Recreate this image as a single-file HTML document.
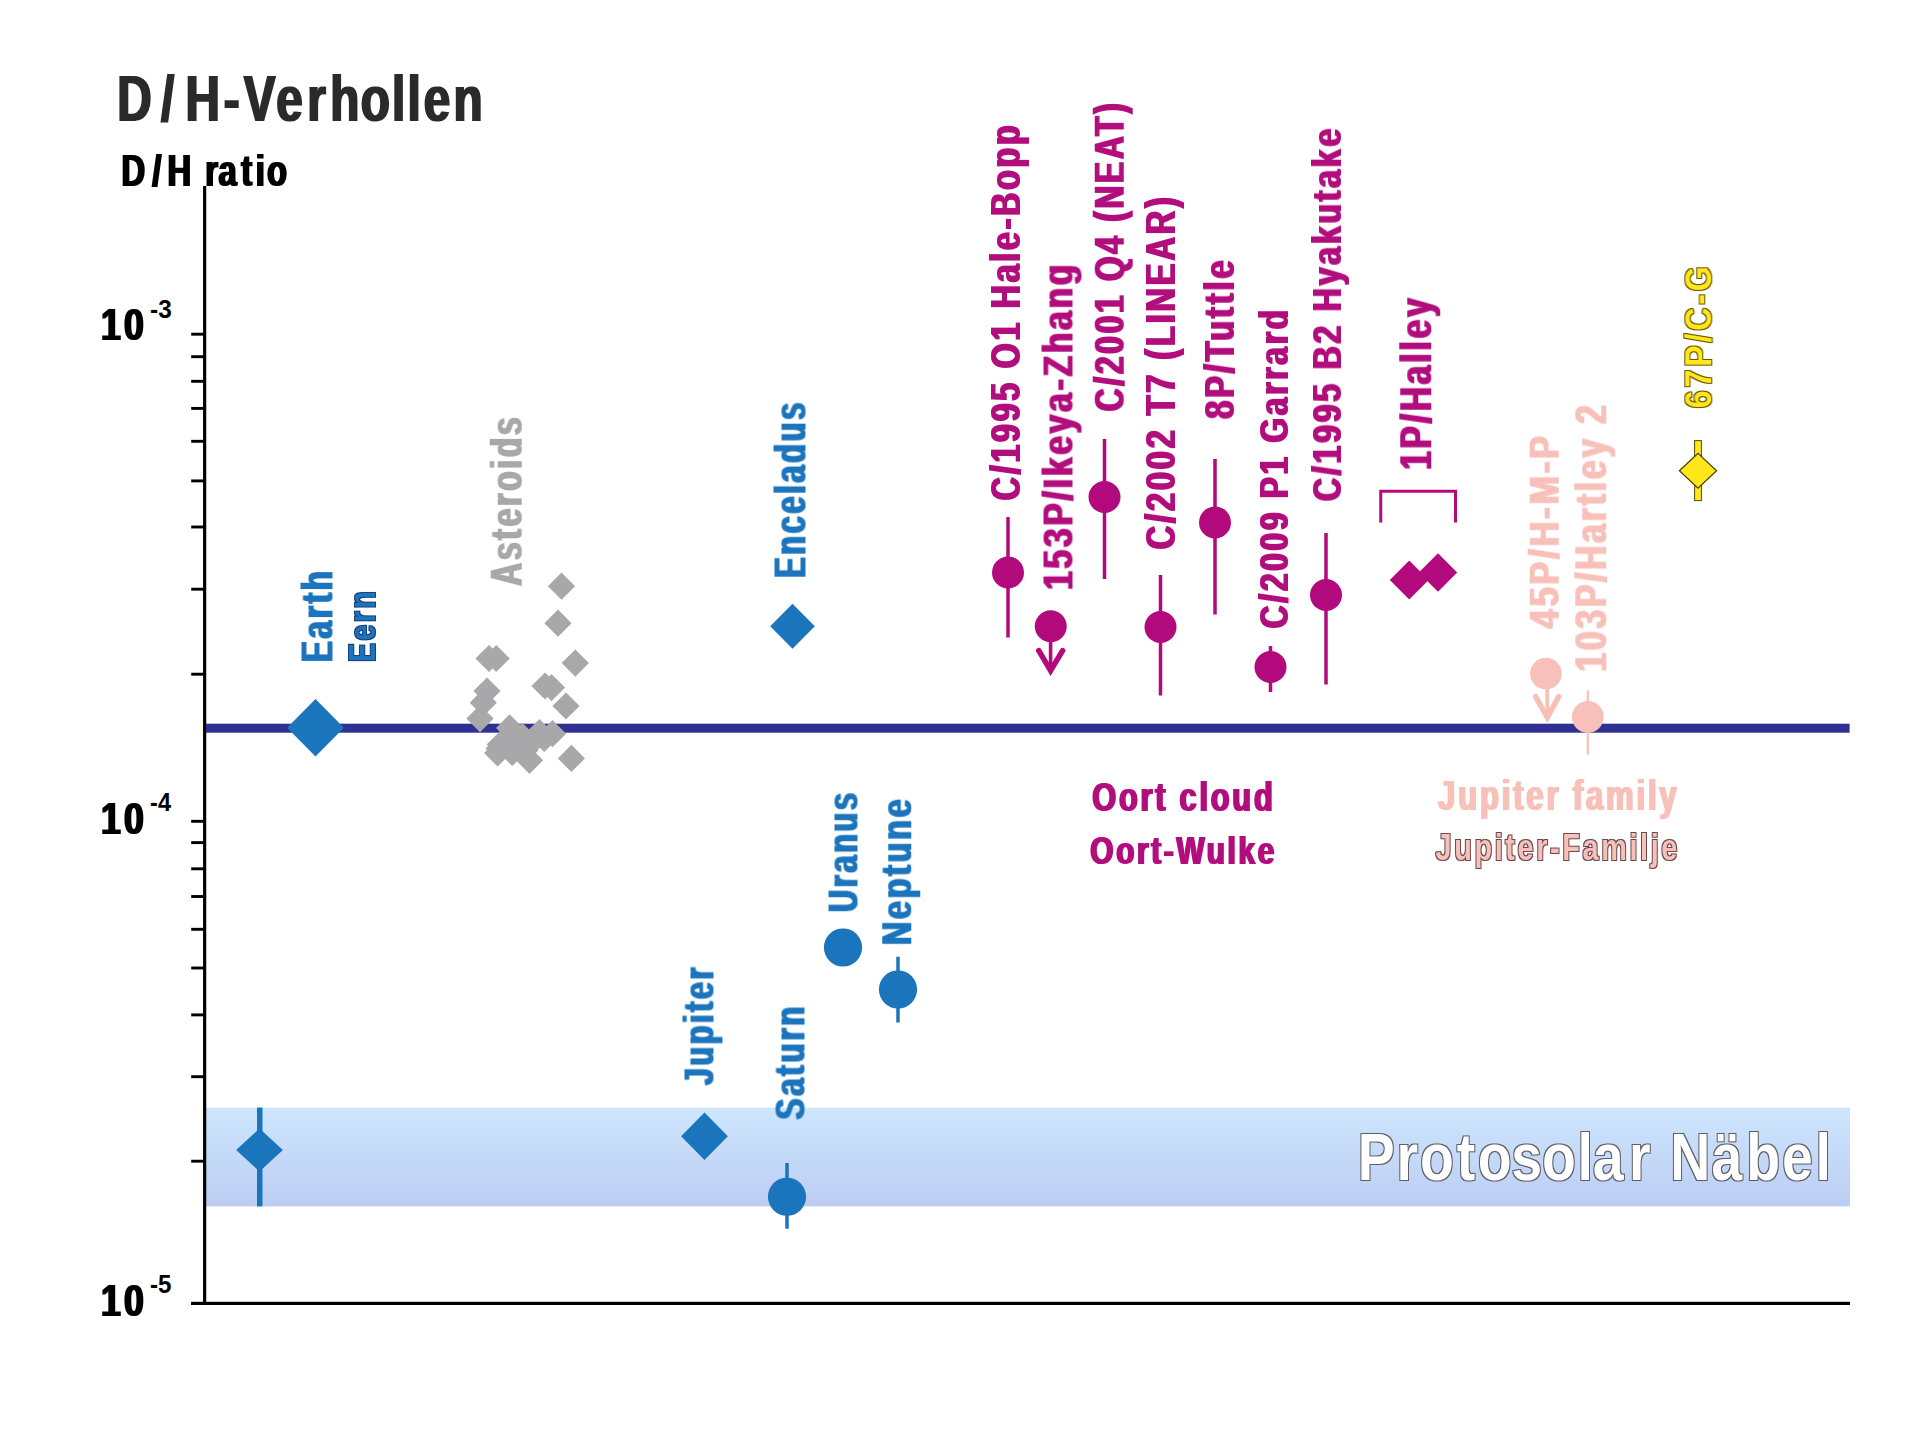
<!DOCTYPE html>
<html lang="nds"><head><meta charset="utf-8"><title>D/H-Verhollen</title>
<style>
html,body{margin:0;padding:0;background:#fff;}
body{width:1911px;height:1433px;overflow:hidden;}
svg{display:block;font-family:"Liberation Sans",sans-serif;font-weight:bold;}
</style></head><body>
<svg width="1911" height="1433" viewBox="0 0 1911 1433">
<rect width="1911" height="1433" fill="#fff"/>
<defs><filter id="fat" x="-5%" y="-25%" width="110%" height="150%"><feMorphology operator="dilate" radius="1.15 0"/></filter><filter id="oW" x="-5%" y="-25%" width="110%" height="150%" color-interpolation-filters="sRGB"><feMorphology in="SourceAlpha" operator="dilate" radius="1.15 1" result="outer"/><feFlood flood-color="#5e5e66"/><feComposite in2="outer" operator="in" result="o"/><feFlood flood-color="#ffffff"/><feComposite in2="SourceAlpha" operator="in" result="f"/><feMerge><feMergeNode in="o"/><feMergeNode in="f"/></feMerge></filter><filter id="oP" x="-5%" y="-25%" width="110%" height="150%" color-interpolation-filters="sRGB"><feMorphology in="SourceAlpha" operator="dilate" radius="1.15 1" result="outer"/><feFlood flood-color="#6a4a50"/><feComposite in2="outer" operator="in" result="o"/><feFlood flood-color="#f7c0b9"/><feComposite in2="SourceAlpha" operator="in" result="f"/><feMerge><feMergeNode in="o"/><feMergeNode in="f"/></feMerge></filter><filter id="oB" x="-5%" y="-25%" width="110%" height="150%" color-interpolation-filters="sRGB"><feMorphology in="SourceAlpha" operator="dilate" radius="1.15 1" result="outer"/><feFlood flood-color="#173f78"/><feComposite in2="outer" operator="in" result="o"/><feFlood flood-color="#1b75bc"/><feComposite in2="SourceAlpha" operator="in" result="f"/><feMerge><feMergeNode in="o"/><feMergeNode in="f"/></feMerge></filter><filter id="oY" x="-5%" y="-25%" width="110%" height="150%" color-interpolation-filters="sRGB"><feMorphology in="SourceAlpha" operator="dilate" radius="1.15 1" result="outer"/><feFlood flood-color="#6b5500"/><feComposite in2="outer" operator="in" result="o"/><feFlood flood-color="#ffe71a"/><feComposite in2="SourceAlpha" operator="in" result="f"/><feMerge><feMergeNode in="o"/><feMergeNode in="f"/></feMerge></filter></defs>
<defs><linearGradient id="bg" x1="0" y1="0" x2="0" y2="1"><stop offset="0" stop-color="#cde6fd"/><stop offset="1" stop-color="#bccdf3"/></linearGradient></defs>
<rect x="206" y="1107.6" width="1644" height="98.8" fill="url(#bg)"/>
<rect x="203.05" y="186.00" width="3.20" height="1119.00" fill="#000"/>
<rect x="191.00" y="1301.80" width="1659.00" height="3.20" fill="#000"/>
<rect x="191.20" y="332.75" width="12.80" height="2.90" fill="#000"/>
<rect x="191.20" y="355.25" width="12.80" height="2.90" fill="#000"/>
<rect x="191.20" y="379.85" width="12.80" height="2.90" fill="#000"/>
<rect x="191.20" y="406.95" width="12.80" height="2.90" fill="#000"/>
<rect x="191.20" y="439.85" width="12.80" height="2.90" fill="#000"/>
<rect x="191.20" y="479.45" width="12.80" height="2.90" fill="#000"/>
<rect x="191.20" y="525.55" width="12.80" height="2.90" fill="#000"/>
<rect x="191.20" y="587.75" width="12.80" height="2.90" fill="#000"/>
<rect x="191.20" y="672.75" width="12.80" height="2.90" fill="#000"/>
<rect x="191.20" y="819.85" width="12.80" height="2.90" fill="#000"/>
<rect x="191.20" y="841.15" width="12.80" height="2.90" fill="#000"/>
<rect x="191.20" y="867.35" width="12.80" height="2.90" fill="#000"/>
<rect x="191.20" y="895.05" width="12.80" height="2.90" fill="#000"/>
<rect x="191.20" y="927.85" width="12.80" height="2.90" fill="#000"/>
<rect x="191.20" y="966.55" width="12.80" height="2.90" fill="#000"/>
<rect x="191.20" y="1013.45" width="12.80" height="2.90" fill="#000"/>
<rect x="191.20" y="1075.25" width="12.80" height="2.90" fill="#000"/>
<rect x="191.20" y="1159.75" width="12.80" height="2.90" fill="#000"/>
<rect x="206.00" y="723.70" width="1643.60" height="9.00" fill="#2e3192"/>
<text transform="translate(0,120.80) scale(0.7426,1)" x="157.98 216.84 249.82 301.39 328.41 372.11 413.75 444.86 485.91 527.71 548.92 570.80 610.79" y="0" font-size="64.24" fill="#2b2b2b" filter="url(#fat)">D/H-Verhollen</text>
<text transform="translate(0,185.60) scale(0.7263,1)" x="167.44 209.56 230.58 253.11 282.51 300.90 332.09 352.19 367.64" y="0" font-size="45.06" fill="#000" filter="url(#fat)">D/H ratio</text>
<text transform="translate(103.10,339.60) scale(0.8137,1)" x="-2.74" y="0" font-size="43.79" letter-spacing="3.94" fill="#000" filter="url(#fat)">10</text>
<text transform="translate(103.10,834.00) scale(0.8137,1)" x="-2.74" y="0" font-size="43.79" letter-spacing="3.94" fill="#000" filter="url(#fat)">10</text>
<text transform="translate(103.10,1315.60) scale(0.8137,1)" x="-2.74" y="0" font-size="43.79" letter-spacing="3.94" fill="#000" filter="url(#fat)">10</text>
<text transform="translate(151.00,317.50) scale(0.9450,1)" x="-1.03" y="0" font-size="25.79" letter-spacing="0.00" fill="#000" >-3</text>
<text transform="translate(151.00,811.00) scale(0.9113,1)" x="-1.03" y="0" font-size="25.79" letter-spacing="0.00" fill="#000" >-4</text>
<text transform="translate(151.00,1293.00) scale(0.9363,1)" x="-1.03" y="0" font-size="25.79" letter-spacing="0.00" fill="#000" >-5</text>
<text transform="translate(1093.50,810.50) scale(0.7561,1)" x="-1.63" y="0" font-size="40.70" letter-spacing="3.66" fill="#b20a7d" filter="url(#fat)">Oort cloud</text>
<text transform="translate(1091.50,864.25) scale(0.7654,1)" x="-1.56" y="0" font-size="38.88" letter-spacing="3.50" fill="#b20a7d" filter="url(#fat)">Oort-Wulke</text>
<text transform="translate(1438.50,810.00) scale(0.7381,1)" x="-0.63" y="0" font-size="42.15" letter-spacing="3.79" fill="#f7c0b9" filter="url(#fat)">Jupiter family</text>
<text transform="translate(1436.00,859.75) scale(0.7950,1)" x="-0.55" y="0" font-size="36.34" letter-spacing="3.27" fill="#f7c0b9" filter="url(#oP)">Jupiter-Familje</text>
<text transform="translate(0,1180.20) scale(0.8221,1)" x="1651.51 1698.83 1727.26 1772.10 1797.69 1838.35 1875.65 1918.76 1937.51 1981.40 2015.12 2031.78 2081.87 2124.25 2167.69 2208.31" y="0" font-size="67.44" fill="#fff" filter="url(#oW)">Protosolar Näbel</text>
<rect x="257.00" y="1107.60" width="5.50" height="98.80" fill="#1b75bc"/>
<polygon points="236.10,1150.00 259.50,1128.50 282.90,1150.00 259.50,1171.50" fill="#1b75bc" />
<polygon points="287.10,727.70 315.50,699.00 343.90,727.70 315.50,756.40" fill="#1b75bc" />
<text transform="translate(332.50,660.00) rotate(-90) scale(0.7040,1)" x="-2.99" y="0" font-size="44.33" letter-spacing="3.99" fill="#1b75bc" filter="url(#fat)">Earth</text>
<text transform="translate(375.00,660.00) rotate(-90) scale(0.7497,1)" x="-2.55" y="0" font-size="37.79" letter-spacing="3.40" fill="#1b75bc" filter="url(#oB)">Eern</text>
<polygon points="770.20,626.25 792.50,603.75 814.80,626.25 792.50,648.75" fill="#1b75bc" />
<text transform="translate(805.50,575.75) rotate(-90) scale(0.6792,1)" x="-3.04" y="0" font-size="45.06" letter-spacing="4.06" fill="#1b75bc" filter="url(#fat)">Enceladus</text>
<polygon points="681.10,1136.25 704.50,1112.55 727.90,1136.25 704.50,1159.95" fill="#1b75bc" />
<text transform="translate(713.50,1084.50) rotate(-90) scale(0.7188,1)" x="-0.63" y="0" font-size="42.15" letter-spacing="3.79" fill="#1b75bc" filter="url(#fat)">Jupiter</text>
<rect x="785.25" y="1163.00" width="3.50" height="65.75" fill="#1b75bc"/>
<circle cx="787.00" cy="1196.75" r="19.10" fill="#1b75bc"/>
<text transform="translate(804.50,1118.50) rotate(-90) scale(0.7403,1)" x="-1.26" y="0" font-size="42.15" letter-spacing="3.79" fill="#1b75bc" filter="url(#fat)">Saturn</text>
<circle cx="843.00" cy="947.50" r="19.10" fill="#1b75bc"/>
<text transform="translate(857.50,910.25) rotate(-90) scale(0.7129,1)" x="-2.57" y="0" font-size="42.88" letter-spacing="3.86" fill="#1b75bc" filter="url(#fat)">Uranus</text>
<rect x="896.25" y="956.75" width="3.50" height="65.75" fill="#1b75bc"/>
<circle cx="898.00" cy="989.50" r="19.10" fill="#1b75bc"/>
<text transform="translate(911.25,942.75) rotate(-90) scale(0.7536,1)" x="-2.87" y="0" font-size="42.51" letter-spacing="3.83" fill="#1b75bc" filter="url(#fat)">Neptune</text>
<text transform="translate(521.75,585.00) rotate(-90) scale(0.7249,1)" x="-1.09" y="0" font-size="43.60" letter-spacing="3.92" fill="#a8a8ab" filter="url(#fat)">Asteroids</text>
<polygon points="547.90,586.20 561.50,572.60 575.10,586.20 561.50,599.80" fill="#a8a8ab" />
<polygon points="544.40,623.20 558.00,609.60 571.60,623.20 558.00,636.80" fill="#a8a8ab" />
<polygon points="561.70,663.10 575.30,649.50 588.90,663.10 575.30,676.70" fill="#a8a8ab" />
<polygon points="475.40,658.50 489.00,644.90 502.60,658.50 489.00,672.10" fill="#a8a8ab" />
<polygon points="482.60,658.50 496.20,644.90 509.80,658.50 496.20,672.10" fill="#a8a8ab" />
<polygon points="473.40,691.00 487.00,677.40 500.60,691.00 487.00,704.60" fill="#a8a8ab" />
<polygon points="531.40,686.00 545.00,672.40 558.60,686.00 545.00,699.60" fill="#a8a8ab" />
<polygon points="537.90,687.60 551.50,674.00 565.10,687.60 551.50,701.20" fill="#a8a8ab" />
<polygon points="469.70,702.70 483.30,689.10 496.90,702.70 483.30,716.30" fill="#a8a8ab" />
<polygon points="552.40,706.00 566.00,692.40 579.60,706.00 566.00,719.60" fill="#a8a8ab" />
<polygon points="466.40,718.60 480.00,705.00 493.60,718.60 480.00,732.20" fill="#a8a8ab" />
<polygon points="557.80,758.40 571.40,744.80 585.00,758.40 571.40,772.00" fill="#a8a8ab" />
<polygon points="496.00,727.90 509.60,714.30 523.20,727.90 509.60,741.50" fill="#a8a8ab" />
<polygon points="525.90,732.60 539.50,719.00 553.10,732.60 539.50,746.20" fill="#a8a8ab" />
<polygon points="538.90,733.70 552.50,720.10 566.10,733.70 552.50,747.30" fill="#a8a8ab" />
<polygon points="484.00,753.00 497.60,739.40 511.20,753.00 497.60,766.60" fill="#a8a8ab" />
<polygon points="498.70,752.50 512.30,738.90 525.90,752.50 512.30,766.10" fill="#a8a8ab" />
<polygon points="515.90,760.30 529.50,746.70 543.10,760.30 529.50,773.90" fill="#a8a8ab" />
<polygon points="486.60,744.60 500.20,731.00 513.80,744.60 500.20,758.20" fill="#a8a8ab" />
<polygon points="508.60,736.30 522.20,722.70 535.80,736.30 522.20,749.90" fill="#a8a8ab" />
<polygon points="530.60,738.40 544.20,724.80 557.80,738.40 544.20,752.00" fill="#a8a8ab" />
<polygon points="503.40,744.60 517.00,731.00 530.60,744.60 517.00,758.20" fill="#a8a8ab" />
<polygon points="518.00,742.50 531.60,728.90 545.20,742.50 531.60,756.10" fill="#a8a8ab" />
<polygon points="485.40,748.50 499.00,734.90 512.60,748.50 499.00,762.10" fill="#a8a8ab" />
<polygon points="511.20,750.40 524.80,736.80 538.40,750.40 524.80,764.00" fill="#a8a8ab" />
<rect x="1006.25" y="517.00" width="3.50" height="120.50" fill="#b20a7d"/>
<circle cx="1008.00" cy="572.50" r="16.00" fill="#b20a7d"/>
<rect x="1102.75" y="439.00" width="3.50" height="140.00" fill="#b20a7d"/>
<circle cx="1104.50" cy="497.00" r="16.00" fill="#b20a7d"/>
<rect x="1158.75" y="575.00" width="3.50" height="120.50" fill="#b20a7d"/>
<circle cx="1160.50" cy="627.00" r="16.00" fill="#b20a7d"/>
<rect x="1213.25" y="459.00" width="3.50" height="155.50" fill="#b20a7d"/>
<circle cx="1215.00" cy="522.50" r="16.00" fill="#b20a7d"/>
<rect x="1268.75" y="646.00" width="3.50" height="46.00" fill="#b20a7d"/>
<circle cx="1270.50" cy="667.00" r="16.00" fill="#b20a7d"/>
<rect x="1324.25" y="533.00" width="3.50" height="151.50" fill="#b20a7d"/>
<circle cx="1326.00" cy="595.00" r="16.00" fill="#b20a7d"/>
<circle cx="1050.75" cy="626.25" r="16.00" fill="#b20a7d"/>
<path d="M1050.6 626 V668" fill="none" stroke="#b20a7d" stroke-width="3.6"/><path d="M1038.8 650.6 L1050.6 670.6 L1062.6 650.6" fill="none" stroke="#b20a7d" stroke-width="5.5" stroke-linecap="round" stroke-miterlimit="10"/>
<text transform="translate(1020.00,499.00) rotate(-90) scale(0.7513,1)" x="-1.70" y="0" font-size="42.51" letter-spacing="3.83" fill="#b20a7d" filter="url(#fat)">C/1995 O1 Hale-Bopp</text>
<text transform="translate(1072.50,587.75) rotate(-90) scale(0.7938,1)" x="-2.61" y="0" font-size="41.79" letter-spacing="3.76" fill="#b20a7d" filter="url(#fat)">153P/Ikeya-Zhang</text>
<text transform="translate(1123.75,410.00) rotate(-90) scale(0.7540,1)" x="-1.67" y="0" font-size="41.79" letter-spacing="3.76" fill="#b20a7d" filter="url(#fat)">C/2001 Q4 (NEAT)</text>
<text transform="translate(1175.00,548.00) rotate(-90) scale(0.7695,1)" x="-1.69" y="0" font-size="42.15" letter-spacing="3.79" fill="#b20a7d" filter="url(#fat)">C/2002 T7 (LINEAR)</text>
<text transform="translate(1234.00,417.75) rotate(-90) scale(0.7719,1)" x="-1.37" y="0" font-size="42.15" letter-spacing="3.79" fill="#b20a7d" filter="url(#fat)">8P/Tuttle</text>
<text transform="translate(1288.00,627.00) rotate(-90) scale(0.7734,1)" x="-1.63" y="0" font-size="40.70" letter-spacing="3.66" fill="#b20a7d" filter="url(#fat)">C/2009 P1 Garrard</text>
<text transform="translate(1341.00,499.75) rotate(-90) scale(0.7695,1)" x="-1.66" y="0" font-size="41.42" letter-spacing="3.73" fill="#b20a7d" filter="url(#fat)">C/1995 B2 Hyakutake</text>
<text transform="translate(1431.25,467.75) rotate(-90) scale(0.7611,1)" x="-2.73" y="0" font-size="43.60" letter-spacing="3.92" fill="#b20a7d" filter="url(#fat)">1P/Halley</text>
<path d="M1380.75 522.5 V491.25 H1455.5 V522.5" fill="none" stroke="#b20a7d" stroke-width="3"/>
<polygon points="1389.85,580.00 1409.25,560.60 1428.65,580.00 1409.25,599.40" fill="#b20a7d" />
<polygon points="1418.80,572.50 1438.00,553.30 1457.20,572.50 1438.00,591.70" fill="#b20a7d" />
<circle cx="1545.90" cy="673.60" r="15.80" fill="#f7c0b9"/>
<path d="M1547.2 674 V715" fill="none" stroke="#f7c0b9" stroke-width="3.6"/><path d="M1535.6 696.6 L1547.3 717.3 L1558.8 696.6" fill="none" stroke="#f7c0b9" stroke-width="5.5" stroke-linecap="round" stroke-miterlimit="10"/>
<rect x="1586.70" y="690.30" width="2.20" height="64.30" fill="#f7c0b9"/>
<circle cx="1587.80" cy="717.00" r="15.90" fill="#f7c0b9"/>
<text transform="translate(1558.75,627.75) rotate(-90) scale(0.7912,1)" x="-0.64" y="0" font-size="42.88" letter-spacing="3.86" fill="#f7c0b9" filter="url(#fat)">45P/H-M-P</text>
<text transform="translate(1606.25,669.50) rotate(-90) scale(0.7630,1)" x="-2.73" y="0" font-size="43.60" letter-spacing="3.92" fill="#f7c0b9" filter="url(#fat)">103P/Hartley 2</text>
<rect x="1694.6" y="440.6" width="6.8" height="60" fill="#ffe71a" stroke="#5a4800" stroke-width="1"/>
<polygon points="1679.40,470.80 1698.00,453.30 1716.60,470.80 1698.00,488.30" fill="#ffe71a" stroke="#4a3c00" stroke-width="1.2"/>
<text transform="translate(1711.30,407.00) rotate(-90) scale(0.8575,1)" x="-1.40" y="0" font-size="37.35" letter-spacing="3.36" fill="#ffe71a" filter="url(#oY)">67P/C-G</text>
</svg>
</body></html>
